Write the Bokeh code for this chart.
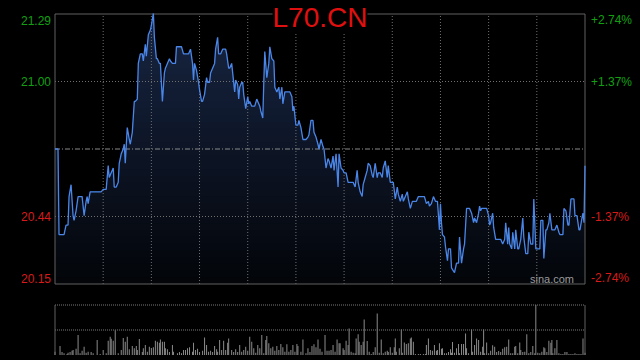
import numpy as np
from bokeh.plotting import figure
from bokeh.models import Range1d, Label
from bokeh.layouts import column
from bokeh.embed import file_html
from bokeh.resources import INLINE

# ---------------- data ----------------
symbol = "L70.CN"
watermark = "sina.com"
prev_close = 20.72
pct_ticks = [-2.74, -1.37, 1.37, 2.74]
session_minutes = 528
grid_step = 48

minute = [
    0, 3, 4, 9, 11, 13, 14, 16, 18, 19,
    21, 23, 27, 29, 31, 32, 33, 35, 46, 48,
    51, 53, 54, 56, 58, 59, 61, 63, 64, 66,
    68, 69, 70, 72, 74, 75, 77, 79, 80, 82,
    83, 85, 87, 88, 90, 91, 93, 95, 96, 98,
    99, 101, 102, 104, 105, 107, 109, 110, 112, 114,
    115, 117, 120, 121, 126, 128, 133, 135, 137, 138,
    139, 141, 143, 144, 146, 147, 149, 151, 152, 154,
    155, 157, 159, 160, 162, 163, 165, 167, 170, 171,
    173, 174, 176, 177, 179, 180, 182, 183, 184, 186,
    187, 188, 190, 192, 193, 194, 196, 199, 201, 202,
    204, 205, 207, 208, 209, 211, 213, 214, 216, 218,
    219, 221, 223, 224, 226, 227, 229, 234, 236, 237,
    238, 240, 242, 243, 245, 247, 250, 252, 253, 255,
    257, 258, 260, 262, 263, 264, 265, 267, 268, 270,
    272, 273, 275, 277, 278, 280, 282, 283, 285, 287,
    288, 290, 292, 297, 299, 301, 302, 304, 306, 307,
    309, 311, 312, 314, 316, 317, 319, 321, 322, 324,
    326, 327, 329, 331, 332, 334, 337, 339, 341, 342,
    344, 346, 347, 349, 351, 352, 354, 356, 360, 362,
    368, 370, 372, 373, 375, 377, 379, 381, 383, 384,
    385, 386, 388, 389, 391, 392, 394, 395, 398, 400,
    402, 403, 405, 407, 408, 410, 413, 415, 417, 418,
    420, 422, 423, 424, 425, 430, 432, 433, 434, 436,
    437, 439, 444, 446, 448, 449, 451, 452, 453, 455,
    456, 458, 459, 461, 462, 464, 466, 467, 469, 471,
    472, 474, 476, 477, 479, 483, 484, 486, 487, 489,
    490, 492, 493, 495, 498, 500, 502, 503, 506, 507,
    509, 511, 512, 514, 517, 518, 520, 522, 523, 525,
    526, 527, 528,
]

price = [
    20.72, 20.72, 20.36, 20.36, 20.40, 20.40, 20.52, 20.57, 20.44, 20.42,
    20.46, 20.52, 20.52, 20.44, 20.50, 20.52, 20.49, 20.54, 20.54, 20.55,
    20.55, 20.65, 20.60, 20.62, 20.64, 20.56, 20.56, 20.58, 20.66, 20.70,
    20.72, 20.74, 20.66, 20.81, 20.76, 20.74, 20.79, 20.92, 20.92, 20.93,
    21.08, 21.12, 21.12, 21.09, 21.16, 21.11, 21.20, 21.22, 21.24, 21.29,
    21.19, 21.10, 21.10, 21.08, 21.08, 20.92, 21.04, 21.06, 21.08, 21.10,
    21.09, 21.08, 21.08, 21.15, 21.15, 21.12, 21.12, 21.14, 21.08, 21.01,
    21.08, 21.05, 21.00, 20.97, 20.92, 20.92, 20.95, 21.02, 21.00, 21.00,
    21.04, 21.06, 21.08, 21.14, 21.19, 21.12, 21.12, 21.14, 21.14, 21.12,
    21.06, 21.06, 21.08, 21.04, 20.96, 21.01, 20.99, 20.93, 20.98, 21.00,
    21.00, 20.95, 20.89, 20.94, 20.91, 20.92, 20.90, 20.90, 20.93, 20.92,
    20.90, 20.88, 20.85, 21.00, 21.13, 21.02, 21.08, 21.15, 21.10, 21.09,
    20.98, 20.96, 20.98, 20.93, 20.98, 20.91, 20.96, 20.96, 20.94, 20.88,
    20.90, 20.82, 20.82, 20.84, 20.81, 20.76, 20.76, 20.77, 20.78, 20.84,
    20.84, 20.79, 20.77, 20.74, 20.72, 20.74, 20.76, 20.73, 20.72, 20.64,
    20.68, 20.67, 20.64, 20.69, 20.63, 20.70, 20.56, 20.70, 20.64, 20.63,
    20.62, 20.62, 20.58, 20.58, 20.56, 20.63, 20.58, 20.54, 20.52, 20.57,
    20.60, 20.63, 20.66, 20.65, 20.61, 20.60, 20.66, 20.60, 20.62, 20.62,
    20.60, 20.64, 20.67, 20.60, 20.65, 20.58, 20.58, 20.51, 20.56, 20.53,
    20.50, 20.53, 20.50, 20.52, 20.54, 20.51, 20.47, 20.50, 20.50, 20.52,
    20.52, 20.49, 20.50, 20.48, 20.49, 20.52, 20.50, 20.50, 20.38, 20.49,
    20.41, 20.36, 20.35, 20.31, 20.25, 20.30, 20.30, 20.22, 20.20, 20.24,
    20.24, 20.35, 20.24, 20.30, 20.32, 20.47, 20.47, 20.45, 20.41, 20.43,
    20.41, 20.45, 20.48, 20.46, 20.47, 20.47, 20.44, 20.40, 20.41, 20.45,
    20.39, 20.34, 20.34, 20.32, 20.34, 20.41, 20.32, 20.39, 20.32, 20.30,
    20.37, 20.30, 20.38, 20.30, 20.30, 20.34, 20.43, 20.35, 20.28, 20.28,
    20.37, 20.32, 20.32, 20.51, 20.30, 20.30, 20.42, 20.42, 20.26, 20.38,
    20.38, 20.41, 20.45, 20.38, 20.38, 20.40, 20.37, 20.36, 20.36, 20.47,
    20.46, 20.40, 20.40, 20.51, 20.51, 20.44, 20.44, 20.38, 20.38, 20.43,
    20.45, 20.41, 20.65,
]

vol_minute = [
    0, 5, 7, 9, 12, 13, 15, 17, 18, 21,
    23, 25, 27, 29, 31, 33, 36, 38, 42, 45,
    48, 51, 53, 55, 56, 58, 60, 63, 66, 68,
    70, 72, 74, 77, 79, 81, 82, 84, 87, 88,
    90, 92, 94, 96, 98, 100, 102, 104, 105, 107,
    109, 110, 112, 114, 117, 118, 122, 124, 126, 128,
    130, 132, 134, 137, 138, 140, 142, 144, 147, 149,
    151, 153, 155, 157, 159, 161, 162, 164, 166, 168,
    170, 172, 173, 176, 178, 180, 182, 184, 186, 188,
    190, 192, 194, 196, 198, 200, 202, 204, 206, 208,
    210, 211, 213, 215, 217, 219, 221, 223, 225, 227,
    229, 231, 233, 235, 237, 239, 241, 242, 245, 247,
    250, 252, 254, 256, 258, 260, 262, 264, 266, 269,
    271, 273, 275, 277, 279, 281, 283, 284,
    287, 288, 290, 292, 293, 295, 297, 299, 300, 302,
    303, 305, 307, 308, 311, 313, 315, 317, 319, 321,
    323, 325, 327, 329, 331, 332, 334, 336, 338, 339,
    340, 343, 345, 346, 348, 350, 352, 354, 355, 357,
    359, 362, 364, 367, 369, 370, 372, 374, 376, 378,
    380, 381, 383, 385, 386, 388, 390, 392, 394, 395,
    396, 398, 400, 402, 403, 405, 407, 409, 410, 412,
    415, 416, 418, 420, 422, 424, 426, 427, 428, 430,
    432, 434, 436, 438, 440, 442, 444, 446, 448, 450,
    452, 454, 456, 458, 459, 461, 463, 464, 466, 468,
    470, 472, 474, 476, 478, 479, 481, 483, 485, 487,
    488, 490, 492, 494, 495, 496, 498, 500, 502, 504,
    506, 508, 510, 512, 514, 516, 518, 520, 522, 524,
    526, 528,
]

volume = [
    33, 90, 30, 17, 10, 23, 30, 43, 50, 63,
    200, 17, 43, 83, 23, 33, 30, 17, 150, 10,
    50, 17, 143, 183, 163, 143, 250, 17, 50, 170,
    133, 183, 57, 90, 67, 90, 50, 160, 30, 67,
    100, 33, 83, 70, 77, 143, 133, 123, 157, 133,
    133, 67, 57, 30, 100, 33, 17, 30, 17, 50,
    50, 67, 77, 33, 123, 50, 63, 30, 43, 177,
    100, 33, 43, 30, 90, 57, 33, 150, 50, 143,
    50, 123, 167, 50, 30, 57, 30, 100, 33, 50,
    83, 43, 183, 133, 67, 23, 100, 67, 200, 17,
    150, 190, 117, 67, 83, 43, 90, 50, 110, 77,
    33, 107, 33, 50, 100, 33, 110, 90, 33, 157,
    17, 67, 30, 90, 107, 77, 157, 63, 33, 200,
    43, 43, 50, 100, 33, 157, 117, 117,
    67, 50, 143, 100, 267, 33, 23, 17, 167, 210,
    133, 100, 133, 357, 140, 33, 10, 30, 77, 417,
    23, 157, 17, 33, 43, 30, 77, 23, 77, 167,
    33, 67, 257, 23, 127, 110, 117, 167, 177, 133,
    10, 10, 10, 10, 10, 100, 167, 50, 43, 100,
    43, 50, 117, 63, 67, 17, 17, 30, 57, 23,
    130, 23, 67, 110, 17, 110, 110, 217, 67, 17,
    257, 33, 100, 167, 150, 33, 83, 257, 17, 127,
    17, 43, 97, 83, 30, 40, 30, 63, 77, 83,
    157, 17, 17, 83, 90, 17, 127, 50, 30, 33,
    210, 17, 30, 90, 17, 503, 23, 17, 33, 77,
    67, 30, 143, 123, 150, 17, 67, 150, 17, 10,
    10, 30, 30, 10, 10, 10, 17, 10, 10, 10,
    167, 23,
]

assert len(minute) == len(price)
assert len(vol_minute) == len(volume)

# ---------------- derived ----------------
tick_vals = [prev_close * (1 + p / 100.0) for p in pct_ticks]
y_lo, y_hi = tick_vals[0], tick_vals[-1]
GREEN = "#12a012"
RED = "#d81a1a"
tick_colors = [RED if v < prev_close else GREEN for v in tick_vals]
label_dy = [6, 0, 0, -6]          # keep the end labels inside the band
vmax = max(volume)

# page geometry (pixels): both panels share the same left/right margins
W, H_TOP, H_VOL = 640, 290, 70
M_LEFT, M_RIGHT = 54.5, 55.5
M_TOP, M_BOT = 13.5, 6.5
V_TOP, V_BOT = 14.5, 5.5
x_per_px = session_minutes / (W - M_LEFT - M_RIGHT)
y_per_px = (y_hi - y_lo) / (H_TOP - M_TOP - M_BOT)
v_per_px = vmax / (H_VOL - V_TOP - V_BOT)
x_range = Range1d(-M_LEFT * x_per_px, session_minutes + M_RIGHT * x_per_px)

GRID = "#707070"
BORDER = "#606060"

p = figure(width=W, height=H_TOP, x_range=x_range,
           y_range=Range1d(y_lo - M_BOT * y_per_px, y_hi + M_TOP * y_per_px),
           x_axis_location=None, y_axis_location=None,
           toolbar_location=None, output_backend="svg",
           background_fill_color="black", border_fill_color="black",
           min_border=0, outline_line_color=None)
p.xgrid.visible = False
p.ygrid.visible = False

# gradient-like area fill under the price line
pr = np.array(price)
nb = 40
edges = np.linspace(y_lo, y_hi, nb + 1)
top_rgb = np.array([24, 38, 68])
bot_rgb = np.array([3, 5, 9])
for i in range(nb, 0, -1):
    f = (i - 0.5) / nb
    c = (bot_rgb + (top_rgb - bot_rgb) * f).astype(int)
    col = "#%02x%02x%02x" % tuple(c)
    p.varea(x=minute, y1=y_lo, y2=np.minimum(pr, edges[i]), fill_color=col, fill_alpha=1.0)

# dotted grid inside the price box
gx = list(range(grid_step, session_minutes, grid_step))
p.segment(x0=gx, y0=[y_lo] * len(gx), x1=gx, y1=[y_hi] * len(gx),
          line_color=GRID, line_dash="1 2", line_width=1)
gy = [tick_vals[1], tick_vals[2]]
p.segment(x0=[0] * 2, y0=gy, x1=[session_minutes] * 2, y1=gy,
          line_color=GRID, line_dash="1 2", line_width=1)
# previous close
p.segment(x0=[0], y0=[prev_close], x1=[session_minutes], y1=[prev_close],
          line_color="#8a8a8a", line_dash="5 2 1 2", line_width=1)
# box outline
p.quad(left=[0], right=[session_minutes], bottom=[y_lo], top=[y_hi],
       fill_color=None, line_color=BORDER, line_width=1)

p.line(minute, price, line_color="#4a86e8", line_width=1.3)

# tick labels: price on the left, percent change on the right
for v, pc, colr, dy in zip(tick_vals, pct_ticks, tick_colors, label_dy):
    p.add_layout(Label(x=0, y=v, text="%.2f" % v, text_align="right", text_baseline="middle",
                       x_offset=-4, y_offset=dy, text_color=colr,
                       text_font="Liberation Sans", text_font_size="12px"))
    p.add_layout(Label(x=session_minutes, y=v, text="%+.2f%%" % pc, text_align="left",
                       text_baseline="middle", x_offset=6, y_offset=dy, text_color=colr,
                       text_font="Liberation Sans", text_font_size="12px"))

p.add_layout(Label(x=session_minutes / 2, y=y_hi, text=symbol,
                   text_align="center", text_baseline="middle", y_offset=-3,
                   text_color="#e01010", text_font="Liberation Sans",
                   text_font_size="28px", background_fill_color="black"))
p.add_layout(Label(x=session_minutes, y=y_lo, text=watermark,
                   text_align="right", text_baseline="middle",
                   x_offset=-11, y_offset=5, text_color="#9a9a9a",
                   text_font="Liberation Sans", text_font_size="11px"))

# ---------------- volume panel ----------------
p2 = figure(width=W, height=H_VOL, x_range=x_range,
            y_range=Range1d(-V_BOT * v_per_px, vmax + V_TOP * v_per_px),
            x_axis_location=None, y_axis_location=None,
            toolbar_location=None, output_backend="svg",
            background_fill_color="black", border_fill_color="black",
            min_border=0, outline_line_color=None)
p2.xgrid.visible = False
p2.ygrid.visible = False
p2.vbar(x=vol_minute, top=volume, width=1.0, fill_color="#8a8a8a", line_color=None)
vg = [vmax / 2, vmax]
p2.segment(x0=[0] * 2, y0=vg, x1=[session_minutes] * 2, y1=vg,
           line_color="#7a7a7a", line_dash="1 1", line_width=1)
p2.segment(x0=[0, session_minutes], y0=[0, 0], x1=[0, session_minutes], y1=[vmax, vmax],
           line_color=BORDER, line_width=1)

layout = column(p, p2, spacing=0, styles={"background-color": "black"})
open("out.html", "w").write(file_html(layout, INLINE))
